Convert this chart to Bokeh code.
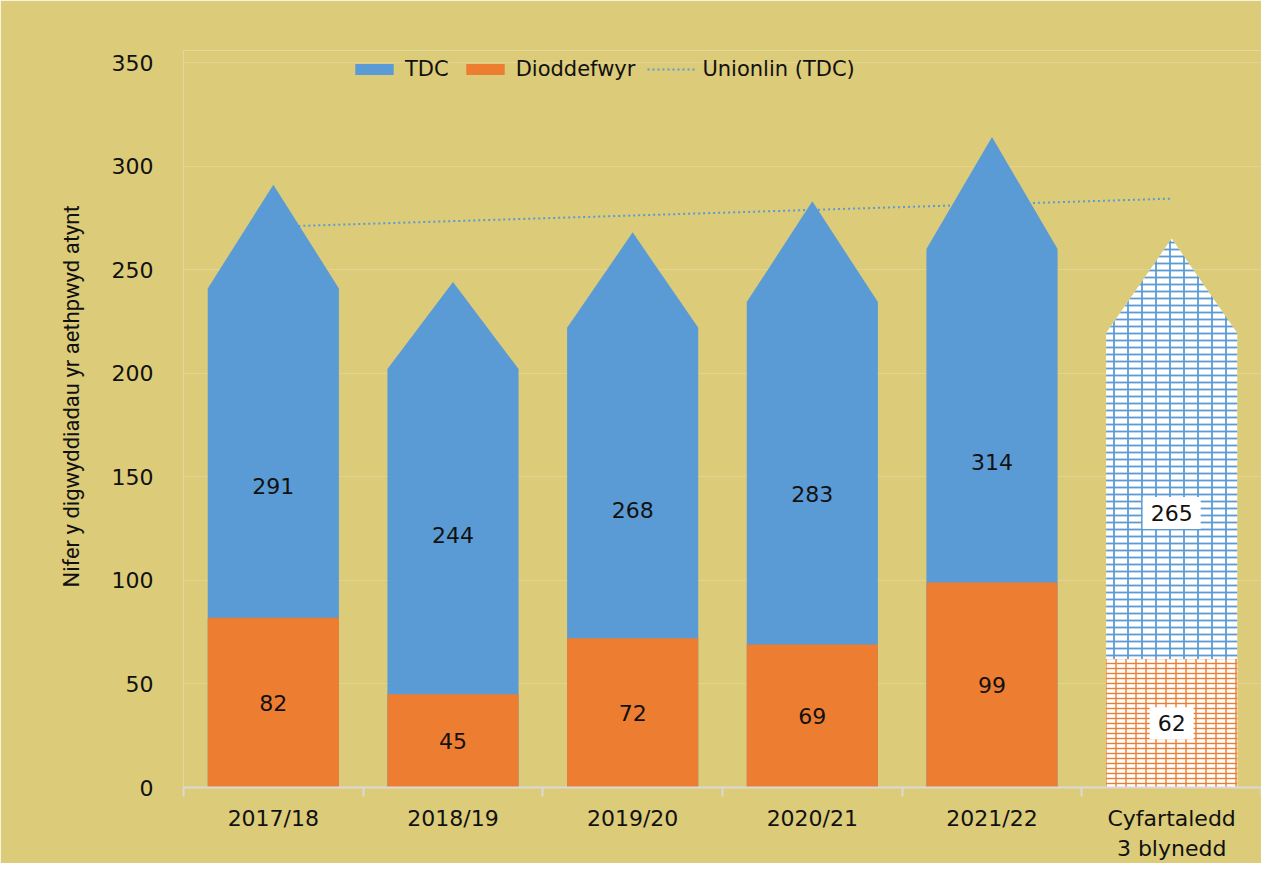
import numpy as np
from bokeh.plotting import figure
from bokeh.models import Range1d, FixedTicker, Legend, LegendItem, ColumnDataSource, Title
from bokeh.core.properties import value
from bokeh.embed import file_html
from bokeh.resources import INLINE

# ---- data ----
categories = ["2017/18", "2018/19", "2019/20", "2020/21", "2021/22", "Cyfartaledd\n3 blynedd"]
tdc = [291, 244, 268, 283, 314, 265]
victims = [82, 45, 72, 69, 99, 62]
y_ticks = [0, 50, 100, 150, 200, 250, 300, 350]
y_label = "Nifer y digwyddiadau yr aethpwyd atynt"
legend_labels = ["TDC", "Dioddefwyr", "Unionlin (TDC)"]

# ---- styles ----
BG = "#DCCB78"
BLUE = "#5B9BD5"
ORANGE = "#ED7D31"
BAR_W = 0.73
SHOULDER = 0.828
FONT = "DejaVu Sans"
FS = "22px"
Y_TOP = 355.8  # a little head-room above 350 for the legend

n = len(categories)
centers = [i + 0.5 for i in range(n)]

p = figure(width=1261, height=863, output_backend="svg", toolbar_location=None,
           x_range=Range1d(0, n), y_range=Range1d(0, Y_TOP),
           min_border_left=183, min_border_right=0, min_border_top=50, min_border_bottom=73)
p.background_fill_color = BG
p.border_fill_color = BG
p.outline_line_color = None

# grid
p.xgrid.grid_line_color = None
p.ygrid.grid_line_color = "#E3D58F"
p.ygrid.grid_line_width = 1
p.yaxis.ticker = FixedTicker(ticks=y_ticks)

# y axis
p.yaxis.axis_line_color = None
p.yaxis.major_tick_line_color = None
p.yaxis.minor_tick_line_color = None
p.yaxis.major_label_text_font = FONT
p.yaxis.major_label_text_font_size = FS
p.yaxis.major_label_text_color = "#111111"
p.yaxis.major_label_standoff = 24

# y axis title, set a little above the frame centre as in the reference
p.add_layout(Title(text=y_label, align="left", offset=200, standoff=50,
                   text_font="Roboto", text_font_size="22px", text_font_style="normal",
                   text_color="#111111"), "left")

# x axis
p.xaxis.ticker = FixedTicker(ticks=centers, minor_ticks=list(range(n + 1)))
p.xaxis.major_label_overrides = {c: lab for c, lab in zip(centers, categories)}
p.xaxis.axis_line_color = "#D9D9D9"
p.xaxis.axis_line_width = 2
p.xaxis.major_tick_line_color = None
p.xaxis.minor_tick_line_color = "#D9D9D9"
p.xaxis.minor_tick_line_width = 2
p.xaxis.minor_tick_in = 0
p.xaxis.minor_tick_out = 9
p.xaxis.major_tick_in = 0
p.xaxis.major_tick_out = 0
p.xaxis.major_label_standoff = 9
p.xaxis.major_label_text_font = FONT
p.xaxis.major_label_text_font_size = FS
p.xaxis.major_label_text_color = "#111111"

# trend line (linear regression of TDC)
xs_idx = np.arange(1, n + 1)
slope, intercept = np.polyfit(xs_idx, tdc, 1)
trend_y = [slope * 1 + intercept, slope * n + intercept]
trend_r = p.line([centers[0], centers[-1]], trend_y, line_color=BLUE, line_width=2,
                 line_dash="2 3")

# arrow-shaped TDC bars
def arrow(c, v):
    x0, x1 = c - BAR_W / 2, c + BAR_W / 2
    s = v * SHOULDER
    return [x0, x0, c, x1, x1], [0, s, v, s, 0]

px, py = [], []
for c, v in zip(centers[:-1], tdc[:-1]):
    a, b = arrow(c, v)
    px.append(a); py.append(b)
tdc_r = p.patches(px, py, fill_color=BLUE, line_color=None)

vic_r = p.vbar(x=centers[:-1], top=victims[:-1], width=BAR_W, fill_color=ORANGE, line_color=None)

# patterned average bar (brick-like: horizontal + vertical hatch)
ax, ay = arrow(centers[-1], tdc[-1])
p.patch(ax, ay, fill_color="white", line_color=None,
        hatch_pattern="horizontal_line", hatch_color=BLUE, hatch_scale=7, hatch_weight=1.8)
p.patch(ax, ay, fill_color=None, line_color=None,
        hatch_pattern="vertical_line", hatch_color=BLUE, hatch_scale=14, hatch_weight=1.8)
p.vbar(x=[centers[-1]], top=[victims[-1]], width=BAR_W, fill_color="white", line_color=None,
       hatch_pattern="horizontal_line", hatch_color=ORANGE, hatch_scale=5, hatch_weight=1.4)
p.vbar(x=[centers[-1]], top=[victims[-1]], width=BAR_W, fill_color=None, line_color=None,
       hatch_pattern="vertical_line", hatch_color=ORANGE, hatch_scale=10, hatch_weight=1.4)

# data labels
lab_src = ColumnDataSource(dict(x=centers[:-1], y=[v / 2 for v in tdc[:-1]],
                                t=[str(v) for v in tdc[:-1]]))
p.text(x="x", y="y", text="t", source=lab_src, text_align="center", text_baseline="middle",
       text_font=value(FONT), text_font_size=FS, text_color="#111111")
lab_src2 = ColumnDataSource(dict(x=centers[:-1], y=[v / 2 for v in victims[:-1]],
                                 t=[str(v) for v in victims[:-1]]))
p.text(x="x", y="y", text="t", source=lab_src2, text_align="center", text_baseline="middle",
       text_font=value(FONT), text_font_size=FS, text_color="#111111")
lab_src3 = ColumnDataSource(dict(x=[centers[-1]] * 2, y=[tdc[-1] / 2, victims[-1] / 2],
                                 t=[str(tdc[-1]), str(victims[-1])]))
p.text(x="x", y="y", text="t", source=lab_src3, text_align="center", text_baseline="middle",
       text_font=value(FONT), text_font_size=FS, text_color="#111111",
       background_fill_color="white", padding=8)

# legend
legend = Legend(items=[LegendItem(label=legend_labels[0], renderers=[tdc_r]),
                       LegendItem(label=legend_labels[1], renderers=[vic_r]),
                       LegendItem(label=legend_labels[2], renderers=[trend_r])],
                orientation="horizontal", location=(167, 706))
legend.background_fill_alpha = 0
legend.border_line_color = None
legend.padding = 0
legend.margin = 0
legend.spacing = 12
legend.glyph_width = 48
legend.glyph_height = 14
legend.label_standoff = 7
legend.label_text_font = FONT
legend.label_text_font_size = "21px"
legend.label_text_color = "#111111"
p.add_layout(legend, "center")

open("out.html", "w").write(file_html(p, INLINE))
